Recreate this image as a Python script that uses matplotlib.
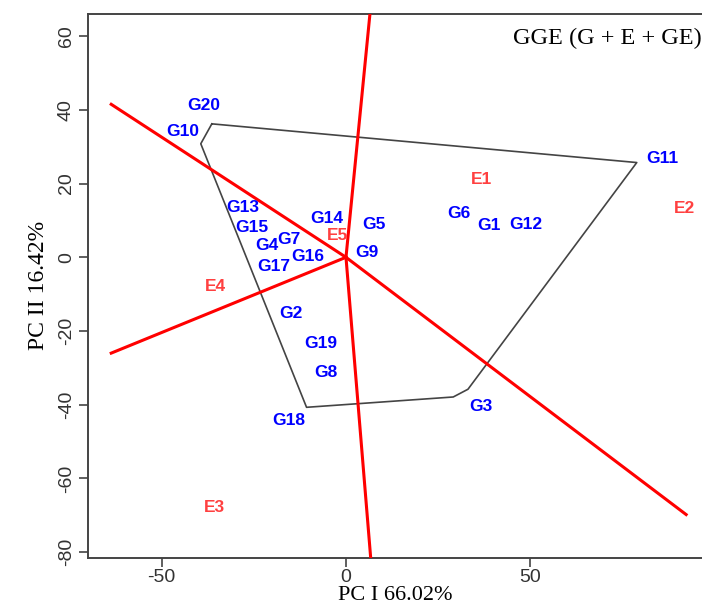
import matplotlib
matplotlib.use("Agg")
import matplotlib.pyplot as plt

plt.rcParams['axes.unicode_minus'] = False

# genotype labels (PC I, PC II)
gen_names = ['G1', 'G2', 'G3', 'G4', 'G5', 'G6', 'G7', 'G8', 'G9', 'G10',
             'G11', 'G12', 'G13', 'G14', 'G15', 'G16', 'G17', 'G18', 'G19', 'G20']
gen_x = [38.8, -14.9, 36.6, -21.4, 7.7, 30.5, -15.4, -5.4, 5.8, -44.4,
         85.8, 48.7, -27.9, -5.1, -25.5, -10.3, -19.5, -15.5, -6.8, -38.5]
gen_y = [8.7, -15.2, -40.5, 3.1, 9.0, 11.9, 4.9, -31.3, 1.3, 34.1,
         26.9, 9.0, 13.5, 10.5, 8.1, 0.1, -2.6, -44.3, -23.5, 41.1]

# environment labels
env_names = ['E1', 'E2', 'E3', 'E4', 'E5']
env_x = [36.9, 91.9, -35.8, -35.5, -2.2]
env_y = [21.2, 13.2, -67.8, -7.8, 5.8]

# polygon vertices
hull_x = [-36.4, 78.9, 33.1, 29.1, -10.7, -39.4, -36.4]
hull_y = [36.2, 25.7, -35.8, -37.9, -40.7, 30.8, 36.2]

# rays from origin (end points)
ray_x = [-63.7, 92.3, -63.7, 6.5, 6.7]
ray_y = [41.5, -69.8, -26.0, 66.0, -81.5]

fig = plt.figure(figsize=(7.02, 6.10), dpi=100)
ax = fig.add_axes([88 / 702, (610 - 557.7) / 610, (702 - 88) / 702, (557.7 - 14) / 610])

ax.plot(hull_x, hull_y, color='#444444', lw=1.2, zorder=2)
for ex, ey in zip(ray_x, ray_y):
    ax.plot([0, ex], [0, ey], color='red', lw=2.2, zorder=3)

for n, x, y in zip(gen_names, gen_x, gen_y):
    ax.text(x, y, n, color='#0000ff', fontsize=12.5, fontweight='bold',
            family='Liberation Sans', ha='center', va='center', zorder=4)
for n, x, y in zip(env_names, env_x, env_y):
    ax.text(x, y, n, color='#ff4040', fontsize=12.5, fontweight='bold',
            family='Liberation Sans', ha='center', va='center', zorder=4)

ax.set_xlim(-70.0, 96.6)
ax.set_ylim(-81.5, 66.0)
ax.set_xticks([-50, 0, 50])
ax.set_yticks([-80, -60, -40, -20, 0, 20, 40, 60])

for s in ['left', 'bottom', 'top']:
    ax.spines[s].set_color('#444444')
    ax.spines[s].set_linewidth(1.4)
ax.spines['right'].set_visible(False)

ax.tick_params(axis='both', length=6.5, width=1.2, color='#444444',
               labelsize=14, labelcolor='#333333', pad=3)
ax.tick_params(axis='x', pad=1.5)
for lab in ax.get_xticklabels() + ax.get_yticklabels():
    lab.set_family('Liberation Sans')
for lab in ax.get_yticklabels():
    lab.set_rotation(90)
    lab.set_va('center')

ax.set_xlabel('PC I 66.02%', family='Liberation Serif', fontsize=16, labelpad=0)
ax.set_ylabel('PC II 16.42%', family='Liberation Serif', fontsize=17, labelpad=6)

ax.text(1.0, 0.975, 'GGE (G + E + GE)', transform=ax.transAxes, ha='right', va='top',
        family='Liberation Serif', fontsize=17.5)

fig.savefig('out.png', dpi=100)
